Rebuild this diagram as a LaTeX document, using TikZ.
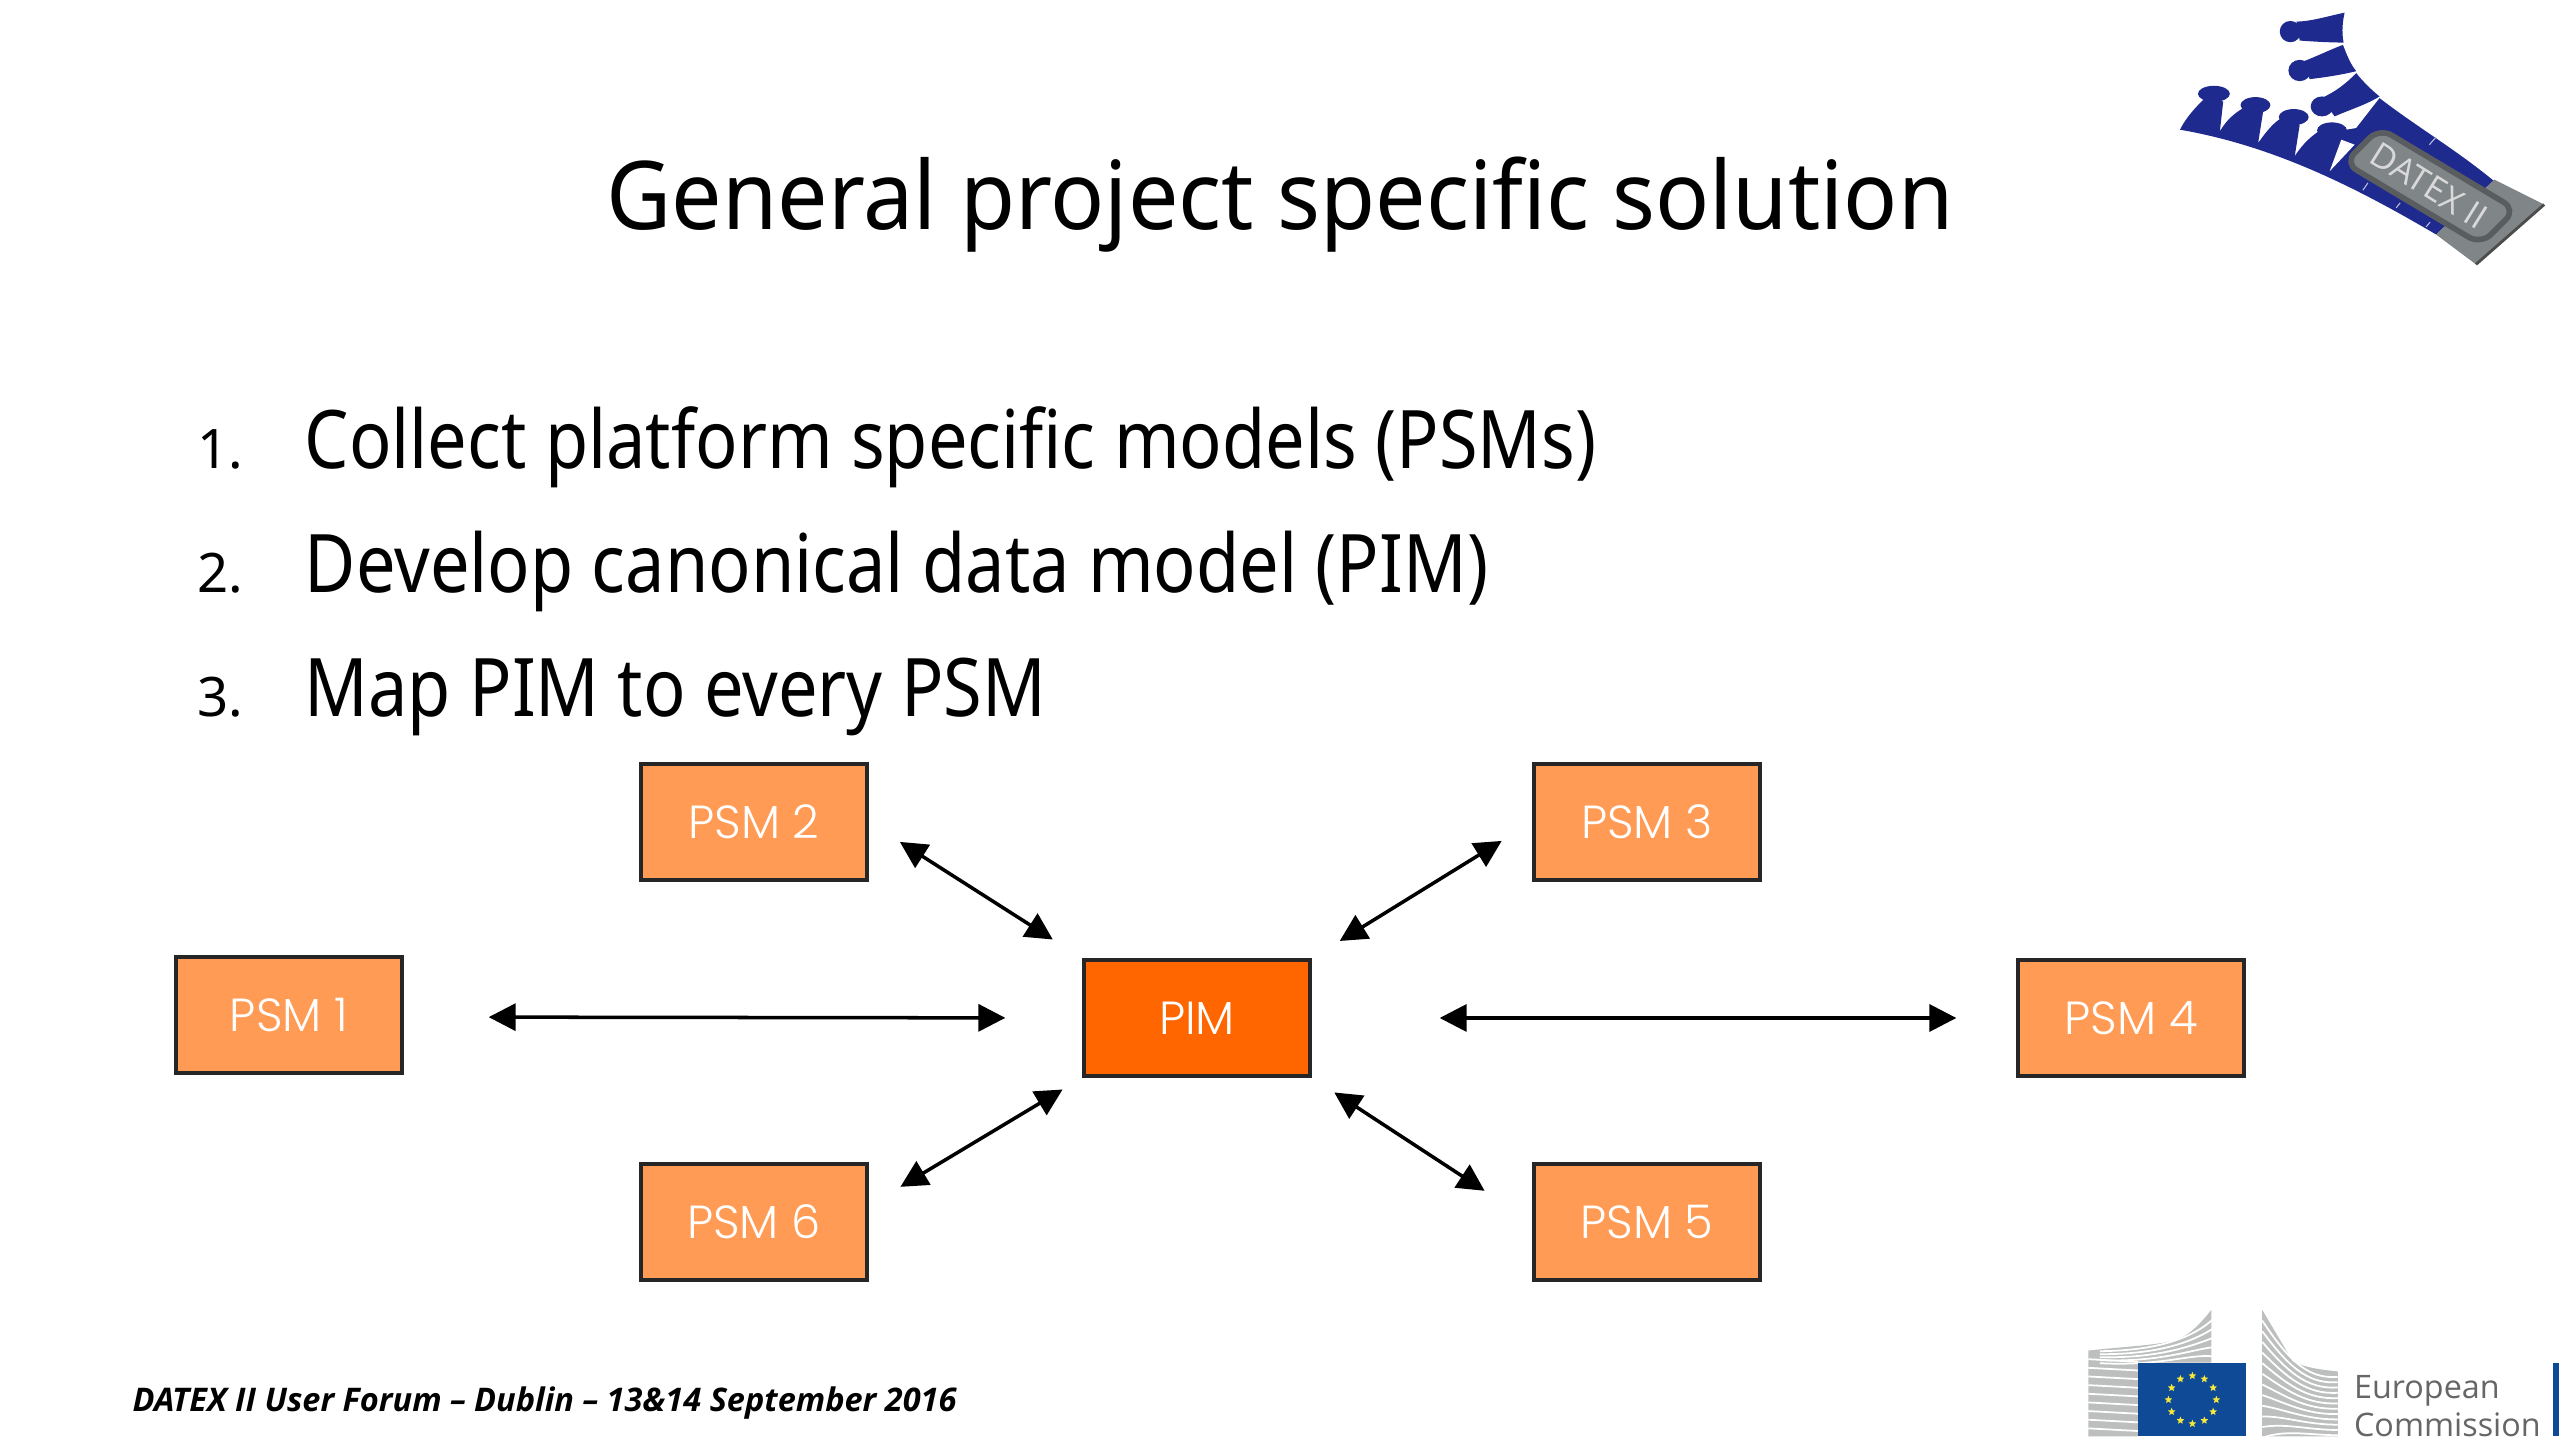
\documentclass[tikz,border=0pt]{standalone}
\usepackage{fontspec}
\setmainfont{Noto Sans}
\newfontfamily\titlefont[FakeStretch=0.945]{Noto Sans}
\newfontfamily\listfont[FakeStretch=0.87]{Noto Sans}
\newfontfamily\psmfont[UprightFont=* Light]{Poppins}
\newfontfamily\ecfont{Open Sans}
\usetikzlibrary{positioning, shapes.geometric, arrows.meta, calc}
\definecolor{dxorange}{HTML}{FF9B54}
\definecolor{dxpim}{HTML}{FF6600}
\definecolor{dxblue}{HTML}{1F2A8E}
\definecolor{dxgrey}{HTML}{808587}
\definecolor{ecblue}{HTML}{0F4A96}
\definecolor{ecgrey}{HTML}{BDBFBF}
\definecolor{ecstar}{HTML}{F5E83A}
\tikzset{
  psmbox/.style={draw=black!85, line width=0.95pt, fill=dxorange, text=white,
    minimum width=2.26cm, minimum height=1.16cm, inner sep=0pt, font=\psmfont\fontsize{13.2}{13}\selectfont},
  pimbox/.style={psmbox, fill=dxpim},
  biarrow/.style={line width=1pt, {Triangle[length=0.27cm,width=0.27cm]}-{Triangle[length=0.27cm,width=0.27cm]}},
  listline/.style={anchor=base west, inner sep=0pt, font=\listfont\fontsize{23}{23}\selectfont},
  listnum/.style={anchor=base west, inner sep=0pt, font=\fontsize{15.5}{16}\selectfont},
}
\begin{document}
\begin{tikzpicture}
    \fill[white] (0,0) rectangle (25.6,14.4);
    \useasboundingbox (0,0) rectangle (25.6,14.4);

    \node[anchor=base] (title) at (12.8,12.1) {\titlefont\fontsize{27}{27}\selectfont General project specific solution};

    \node[listnum] (n1) at (1.97,9.71) {1.};
    \node[listline] (l1) at (3.04,9.71) {Collect platform specific models (PSMs)};
    \node[listnum] (n2) at (1.97,8.47) {2.};
    \node[listline] (l2) at (3.04,8.47) {Develop canonical data model (PIM)};
    \node[listnum] (n3) at (1.97,7.23) {3.};
    \node[listline] (l3) at (3.04,7.23) {Map PIM to every PSM};

    \node[pimbox] (pim) at (11.97,4.22) {PIM};
    \node[psmbox] (psm1) at (2.89,4.25) {PSM 1};
    \node[psmbox] (psm2) at (7.54,6.18) {PSM 2};
    \node[psmbox] (psm3) at (16.47,6.18) {PSM 3};
    \node[psmbox] (psm4) at (21.31,4.22) {PSM 4};
    \node[psmbox] (psm5) at (16.47,2.18) {PSM 5};
    \node[psmbox] (psm6) at (7.54,2.18) {PSM 6};

    \draw[biarrow, shorten <=0.85cm, shorten >=0.77cm] (psm1.-1.5) -- (pim.west);
    \draw[biarrow, shorten <=0.37cm, shorten >=0.35cm] (psm2.east) -- (pim.north west);
    \draw[biarrow, shorten <=0.36cm, shorten >=0.33cm] (psm3.west) -- (pim.north east);
    \draw[biarrow, shorten <=1.28cm, shorten >=0.60cm] (pim.east) -- (psm4.west);
    \draw[biarrow, shorten <=0.27cm, shorten >=0.57cm] (pim.south east) -- (psm5.west);
    \draw[biarrow, shorten <=0.37cm, shorten >=0.23cm] (psm6.8) -- (pim.south west);

    \node[anchor=base west, inner sep=0pt] (forum) at (1.32,0.29)
      {\ecfont\fontsize{9.25}{10}\selectfont\bfseries\itshape DATEX II User Forum – Dublin – 13\&14 September 2016};

    \begin{scope}[shift={(21.6,14.4)}, x=0.003333cm, y=-0.003333cm]
      \fill[dxblue] (60,390) .. controls (80,350) and (110,320) .. (135,295)
        -- (190,305) -- (180,395) .. controls (200,360) and (225,340) .. (250,325)
        -- (310,335) -- (295,430) .. controls (320,395) and (340,370) .. (365,355)
        -- (420,375) -- (405,470) .. controls (430,430) and (460,405) .. (485,390)
        -- (560,390) -- (590,385) -- (660,295)
        .. controls (770,380) and (890,450) .. (1005,545) -- (830,705)
        .. controls (600,570) and (350,440) .. (60,390) -- cycle;
      \fill[dxblue] (162,282) ellipse [x radius=48, y radius=24];
      \fill[dxblue] (287,316) ellipse [x radius=45, y radius=24];
      \fill[dxblue] (402,352) ellipse [x radius=45, y radius=24];
      \fill[dxblue] (517,392) ellipse [x radius=45, y radius=24];
      \fill[white] (510,515) -- (545,420) -- (585,435) -- cycle;
      \fill[dxblue] (555,38) .. controls (500,50) and (450,65) .. (410,65)
        -- (420,122) .. controls (460,125) and (510,128) .. (552,128) .. controls (545,95) and (550,60) .. (555,38) -- cycle;
      \fill[dxblue] (392,95) ellipse [x radius=32, y radius=32];
      \fill[dxblue] (550,135) .. controls (510,150) and (470,170) .. (430,185)
        -- (450,238) .. controls (500,232) and (550,224) .. (590,214) .. controls (570,190) and (560,160) .. (550,135) -- cycle;
      \fill[dxblue] (420,212) ellipse [x radius=34, y radius=32];
      \fill[dxblue] (590,220) .. controls (560,250) and (530,275) .. (485,295)
        -- (525,350) .. controls (570,330) and (620,315) .. (660,290) .. controls (635,270) and (610,245) .. (590,220) -- cycle;
      \fill[dxblue] (487,320) ellipse [x radius=34, y radius=30];
      \fill[dxgrey] (1005,540) -- (1155,615) -- (950,795) -- (830,705) -- cycle;
      \draw[black!70, line width=0.8pt] (1155,615) -- (950,795);
      \draw[dxgrey!70!black, fill=dxgrey, line width=1.6pt, rounded corners=4pt]
        (555,490) -- (660,385) -- (1070,630) -- (965,735) -- cycle;
      \draw[white!70!dxblue, line width=0.3pt] (810,435) -- (830,412);
      \draw[white!70!dxblue, line width=0.3pt] (610,572) -- (625,550);
      \draw[white!70!dxblue, line width=0.3pt] (710,625) -- (722,610);
      \draw[white!70!dxblue, line width=0.3pt] (800,682) -- (812,668);
      \node[rotate=-32, text=white!85!black] (datex) at (810,558) {\ecfont\fontsize{9.8}{10}\selectfont DATEX II};
    \end{scope}

    \begin{scope}[shift={(20.6,1.5)}, x=0.003333cm, y=-0.003333cm]
      \fill[ecgrey] (85,182) .. controls (200,170) and (300,165) .. (350,150)
        .. controls (400,130) and (430,90) .. (455,60) -- (455,218) -- (235,218) -- (235,440) -- (85,440) -- cycle;
      \foreach \i in {1,...,9}
        \draw[white, line width=0.5pt] (85,182+\i*26) -- (235,190+\i*26);
      \foreach \i in {1,...,5}
        \draw[white, line width=0.5pt] (120,175+\i*9) .. controls (300,170+\i*12) and (400,130+\i*12) .. (460,60+\i*28);
      \fill[ecblue] (235,218) rectangle (560,440);
      \foreach \a in {0,30,...,330}
        \node[star, star points=5, star point ratio=2.2, fill=ecstar, inner sep=0pt, minimum size=0.08cm]
          (star\a) at ($(398,330)+(\a:72)$) {};
      \fill[ecgrey] (608,60) -- (700,215) .. controls (740,235) and (790,240) .. (835,245)
        -- (835,440) -- (608,440) -- cycle;
      \foreach \i in {1,...,12}
        \draw[white, line width=0.5pt] (608,60+\i*32) .. controls (680,180+\i*20) and (740,255+\i*15) .. (835,245+\i*16);
      \fill[ecblue] (1482,218) rectangle (1500,440);
      \node[anchor=base west, text=black!60, inner sep=0pt] (ec1) at (882,325) {\ecfont\fontsize{9.2}{9.5}\selectfont European};
      \node[anchor=base west, text=black!60, inner sep=0pt] (ec2) at (882,440) {\ecfont\fontsize{9.2}{9.5}\selectfont Commission};
    \end{scope}
  \end{tikzpicture}
\end{document}
